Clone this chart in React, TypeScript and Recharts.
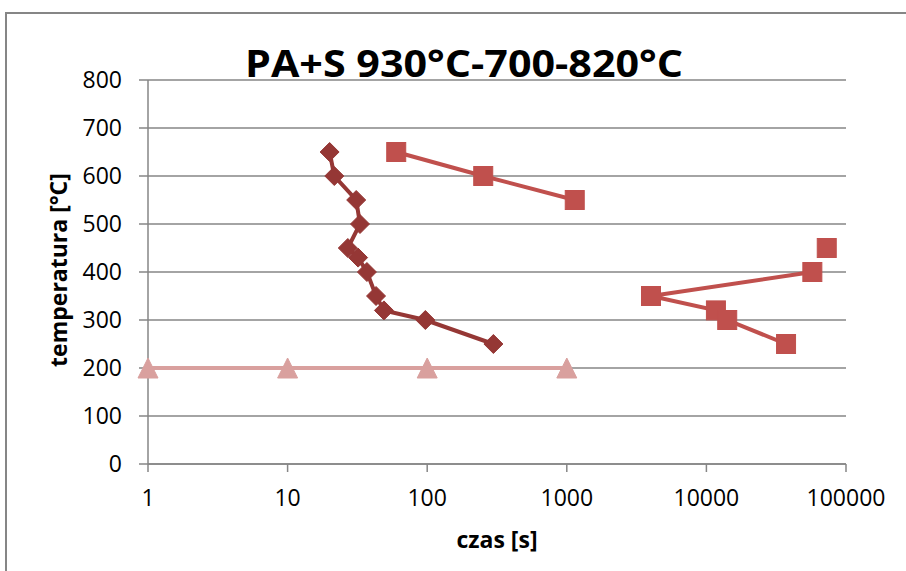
import React from 'react';
import { LineChart, Line, XAxis, YAxis, CartesianGrid } from 'recharts';

// ---- data ----
const X_TICKS = [1, 10, 100, 1000, 10000, 100000];
const Y_TICKS = [0, 100, 200, 300, 400, 500, 600, 700, 800];

const diamondX = [20, 21.6, 31, 33, 27, 32, 37, 43, 49, 97, 298];
const diamondY = [650, 600, 550, 500, 450, 430, 400, 350, 320, 300, 250];

const squareX: (number | null)[] = [60, 252, 1140, null, 72800, null, 57400, 4010, 11700, 14100, 37200];
const squareY: (number | null)[] = [650, 600, 550, null, 450, null, 400, 350, 320, 300, 250];

const triangleX = [1, 10, 100, 1000];
const triangleY = [200, 200, 200, 200];

const TITLE = 'PA+S 930°C-700-820°C';
const X_LABEL = 'czas [s]';
const Y_LABEL = 'temperatura [°C]';

// ---- build series ----
type P = { x: number; y: number };
const zip = (xs: (number | null)[], ys: (number | null)[]): (P | null)[] =>
  xs.map((x, i) => (x == null || ys[i] == null ? null : { x: x as number, y: ys[i] as number }));

const splitOnNull = (pts: (P | null)[]): P[][] => {
  const out: P[][] = [];
  let cur: P[] = [];
  pts.forEach((p) => {
    if (p == null) {
      if (cur.length) out.push(cur);
      cur = [];
    } else cur.push(p);
  });
  if (cur.length) out.push(cur);
  return out;
};

const diamondData = zip(diamondX, diamondY) as P[];
const squareSegments = splitOnNull(zip(squareX, squareY));
const triangleData = zip(triangleX, triangleY) as P[];

const C_DIAMOND = '#953735';
const C_SQUARE = '#C0504D';
const C_TRIANGLE = '#D9A09E';
const GRID = '#868686';
const FONT = "'Open Sans', 'Noto Sans', sans-serif";

const DiamondDot = (props: any) => {
  const { cx, cy, index } = props;
  if (cx == null || cy == null) return <g key={'d' + index} />;
  const r = 9.5;
  return (
    <polygon
      key={'d' + index}
      points={`${cx},${cy - r} ${cx + r},${cy} ${cx},${cy + r} ${cx - r},${cy}`}
      fill={C_DIAMOND}
      stroke={C_DIAMOND}
      strokeWidth={1}
    />
  );
};

const SquareDot = (props: any) => {
  const { cx, cy, index } = props;
  if (cx == null || cy == null) return <g key={'s' + index} />;
  const r = 9.5;
  return <rect key={'s' + index} x={cx - r} y={cy - r} width={2 * r} height={2 * r} fill={C_SQUARE} stroke={C_SQUARE} strokeWidth={1} />;
};

const TriangleDot = (props: any) => {
  const { cx, cy, index } = props;
  if (cx == null || cy == null) return <g key={'t' + index} />;
  const r = 10;
  return (
    <polygon
      key={'t' + index}
      points={`${cx},${cy - r} ${cx + r},${cy + r} ${cx - r},${cy + r}`}
      fill={C_TRIANGLE}
      stroke={C_TRIANGLE}
      strokeWidth={1}
    />
  );
};

const YLabel = (props: any) => {
  const vb = props.viewBox || { x: 68, y: 80, width: 80, height: 384 };
  const cx = 67;
  const cy = vb.y + vb.height / 2 - 2;
  return (
    <text
      x={cx}
      y={cy}
      transform={`rotate(-90, ${cx}, ${cy})`}
      textAnchor="middle"
      fontFamily={FONT}
      fontWeight={700}
      fontSize={23}
      fill="#000"
    >
      {Y_LABEL}
    </text>
  );
};

const XLabel = (props: any) => {
  const vb = props.viewBox || { x: 148, y: 464, width: 698, height: 60 };
  return (
    <text
      x={vb.x + vb.width / 2}
      y={548}
      textAnchor="middle"
      fontFamily={FONT}
      fontWeight={700}
      fontSize={23}
      fill="#000"
    >
      {X_LABEL}
    </text>
  );
};

export default function App() {
  return (
    <div style={{ position: 'absolute', left: 0, top: 0, width: 906, height: 571, background: '#fff', overflow: 'hidden' }}>
      <div
        style={{
          position: 'absolute',
          left: 5,
          top: 12,
          width: 960,
          height: 640,
          borderLeft: `2px solid ${GRID}`,
          borderTop: `2px solid ${GRID}`,
          boxSizing: 'border-box',
        }}
      />
      <div style={{ position: 'absolute', left: 0, top: 0 }}>
        <LineChart width={906} height={571} margin={{ top: 80, right: 60, bottom: 47, left: 68 }}>
          <CartesianGrid vertical={false} stroke={GRID} strokeWidth={1.5} />
          <XAxis
            dataKey="x"
            type="number"
            scale="log"
            domain={[1, 100000]}
            ticks={X_TICKS}
            height={60}
            tickSize={8}
            tickMargin={18}
            axisLine={{ stroke: GRID, strokeWidth: 1.5 }}
            tickLine={{ stroke: GRID, strokeWidth: 1.5 }}
            tick={{ fontSize: 23, fill: '#000', fontFamily: FONT }}
            interval={0}
            label={<XLabel />}
          />
          <YAxis
            type="number"
            domain={[0, 800]}
            ticks={Y_TICKS}
            width={80}
            tickSize={9}
            tickMargin={17}
            axisLine={{ stroke: GRID, strokeWidth: 1.5 }}
            tickLine={{ stroke: GRID, strokeWidth: 1.5 }}
            tick={{ fontSize: 23, fill: '#000', fontFamily: FONT }}
            interval={0}
            label={<YLabel />}
          />
          <Line
            data={triangleData}
            dataKey="y"
            stroke={C_TRIANGLE}
            strokeWidth={4}
            dot={TriangleDot}
            activeDot={false}
            isAnimationActive={false}
            type="linear"
          />
          <Line
            data={diamondData}
            dataKey="y"
            stroke={C_DIAMOND}
            strokeWidth={4}
            dot={DiamondDot}
            activeDot={false}
            isAnimationActive={false}
            type="linear"
          />
          {squareSegments.map((seg, i) => (
            <Line
              key={'sq' + i}
              data={seg}
              dataKey="y"
              stroke={C_SQUARE}
              strokeWidth={4}
              dot={SquareDot}
              activeDot={false}
              isAnimationActive={false}
              type="linear"
            />
          ))}
        </LineChart>
      </div>
      <svg width={906} height={571} style={{ position: 'absolute', left: 0, top: 0, pointerEvents: 'none' }}>
        <text
          x={464}
          y={77}
          textAnchor="middle"
          fontFamily={FONT}
          fontWeight={700}
          fontSize={37}
          textLength={438}
          lengthAdjust="spacingAndGlyphs"
          fill="#000"
        >
          {TITLE}
        </text>
      </svg>
    </div>
  );
}
